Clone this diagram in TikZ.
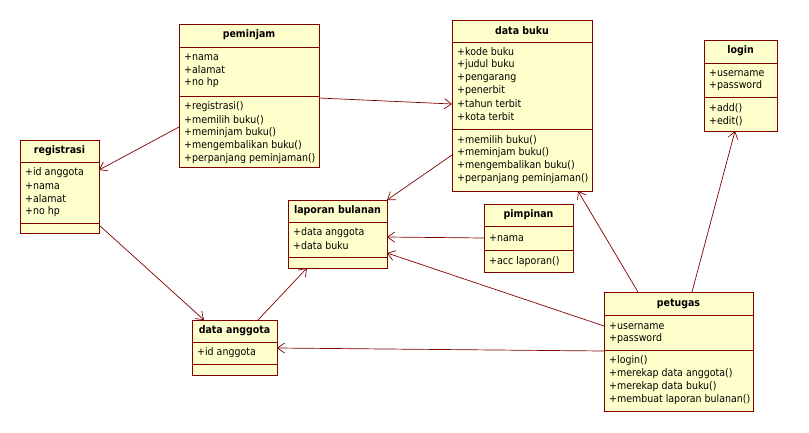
\documentclass[tikz,border=0pt]{standalone}
\usepackage{fontspec}
\setmainfont{DejaVu Sans}[FakeStretch=0.9]
\usetikzlibrary{arrows.meta,calc}
\definecolor{umlred}{HTML}{800000}
\definecolor{umlfill}{HTML}{FFFFCC}
\begin{document}
\begin{tikzpicture}[x=1pt,y=-1pt,
  every node/.style={font=\fontsize{10.5pt}{13pt}\selectfont},
  cls/.style={draw=umlred, fill=umlfill, line width=0.9pt, inner sep=0pt, outer sep=0pt, anchor=north west},
  sepl/.style={draw=umlred, line width=0.9pt},
  ttl/.style={font=\fontsize{10.5pt}{13pt}\selectfont\bfseries, inner sep=0pt},
  mem/.style={anchor=west, inner sep=0pt},
  assoc/.style={draw=umlred, line width=0.7pt, -{Straight Barb[length=7pt,width=10pt]}}
]
\useasboundingbox[fill=white] (0,0) rectangle (809,432);

% peminjam
\node[cls, minimum width=140pt, minimum height=143pt] (peminjam) at (179,24) {};
\draw[sepl] (179,47) -- (319,47);
\draw[sepl] (179,96) -- (319,96);
\node[ttl] (peminjam-t) at (249,35) {peminjam};
\foreach \t/\yy [count=\i] in {+nama/57,+alamat/70,+no hp/83}
  \node[mem] (peminjam-a\i) at (184,\yy) {\t};
\foreach \t/\yy [count=\i] in {+registrasi()/107,+memilih buku()/120,+meminjam buku()/133,+mengembalikan buku()/146,+perpanjang peminjaman()/159}
  \node[mem] (peminjam-m\i) at (184,\yy) {\t};

% data buku
\node[cls, minimum width=140pt, minimum height=171pt] (databuku) at (452,20) {};
\draw[sepl] (452,42) -- (592,42);
\draw[sepl] (452,129) -- (592,129);
\node[ttl] (databuku-t) at (522,31) {data buku};
\foreach \t/\yy [count=\i] in {+kode buku/52,+judul buku/65,+pengarang/78,+penerbit/91,+tahun terbit/104,+kota terbit/117}
  \node[mem] (databuku-a\i) at (457,\yy) {\t};
\foreach \t/\yy [count=\i] in {+memilih buku()/140,+meminjam buku()/153,+mengembalikan buku()/166,+perpanjang peminjaman()/179}
  \node[mem] (databuku-m\i) at (457,\yy) {\t};

% login
\node[cls, minimum width=73pt, minimum height=91pt] (login) at (704,40) {};
\draw[sepl] (704,63) -- (777,63);
\draw[sepl] (704,97) -- (777,97);
\node[ttl] (login-t) at (740.5,51) {login};
\foreach \t/\yy [count=\i] in {+username/73,+password/86}
  \node[mem] (login-a\i) at (709,\yy) {\t};
\foreach \t/\yy [count=\i] in {+add()/108,+edit()/121}
  \node[mem] (login-m\i) at (709,\yy) {\t};

% registrasi
\node[cls, minimum width=79pt, minimum height=93pt] (registrasi) at (20,140) {};
\draw[sepl] (20,162) -- (99,162);
\draw[sepl] (20,223) -- (99,223);
\node[ttl] (registrasi-t) at (59.5,151) {registrasi};
\foreach \t/\yy [count=\i] in {+id anggota/173,+nama/186,+alamat/199,+no hp/212}
  \node[mem] (registrasi-a\i) at (25,\yy) {\t};

% laporan bulanan
\node[cls, minimum width=99pt, minimum height=68pt] (laporan) at (288,200) {};
\draw[sepl] (288,222) -- (387,222);
\draw[sepl] (288,257) -- (387,257);
\node[ttl] (laporan-t) at (337.5,211) {laporan bulanan};
\foreach \t/\yy [count=\i] in {+data anggota/233,+data buku/246}
  \node[mem] (laporan-a\i) at (293,\yy) {\t};

% pimpinan
\node[cls, minimum width=89pt, minimum height=68pt] (pimpinan) at (484,204) {};
\draw[sepl] (484,226) -- (573,226);
\draw[sepl] (484,250) -- (573,250);
\node[ttl] (pimpinan-t) at (528.5,215) {pimpinan};
\node[mem] (pimpinan-a1) at (489,238) {+nama};
\node[mem] (pimpinan-m1) at (489,262) {+acc laporan()};

% data anggota
\node[cls, minimum width=85pt, minimum height=55pt] (dataanggota) at (192,320) {};
\draw[sepl] (192,342) -- (277,342);
\draw[sepl] (192,364) -- (277,364);
\node[ttl] (dataanggota-t) at (234.5,331) {data anggota};
\node[mem] (dataanggota-a1) at (197,353) {+id anggota};

% petugas
\node[cls, minimum width=149pt, minimum height=119pt] (petugas) at (604,292) {};
\draw[sepl] (604,315) -- (753,315);
\draw[sepl] (604,350) -- (753,350);
\node[ttl] (petugas-t) at (678.5,304) {petugas};
\foreach \t/\yy [count=\i] in {+username/326,+password/339}
  \node[mem] (petugas-a\i) at (609,\yy) {\t};
\foreach \t/\yy [count=\i] in {+login()/361,+merekap data anggota()/374,+merekap data buku()/387,+membuat laporan bulanan()/400}
  \node[mem] (petugas-m\i) at (609,\yy) {\t};

% associations
\draw[assoc] ($(peminjam.north west)+(0,103)$) -- ($(registrasi.north east)+(0,30)$);
\draw[assoc] ($(peminjam.north east)+(0,74)$) -- ($(databuku.north west)+(0,84)$);
\draw[assoc] ($(databuku.north west)+(0,135)$) -- (laporan.north east);
\draw[assoc] ($(registrasi.north east)+(0,85)$) -- ($(dataanggota.north west)+(12,0)$);
\draw[assoc] ($(dataanggota.north west)+(66,0)$) -- ($(laporan.south west)+(19,0)$);
\draw[assoc] ($(pimpinan.north west)+(0,34)$) -- ($(laporan.north east)+(0,37)$);
\draw[assoc] ($(petugas.north west)+(0,34)$) -- ($(laporan.north east)+(0,53)$);
\draw[assoc] ($(petugas.north west)+(0,59)$) -- ($(dataanggota.north east)+(0,28)$);
\draw[assoc] ($(petugas.north west)+(34,0)$) -- ($(databuku.south west)+(126,0)$);
\draw[assoc] ($(petugas.north west)+(88,0)$) -- ($(login.south west)+(31,0)$);
\end{tikzpicture}
\end{document}
